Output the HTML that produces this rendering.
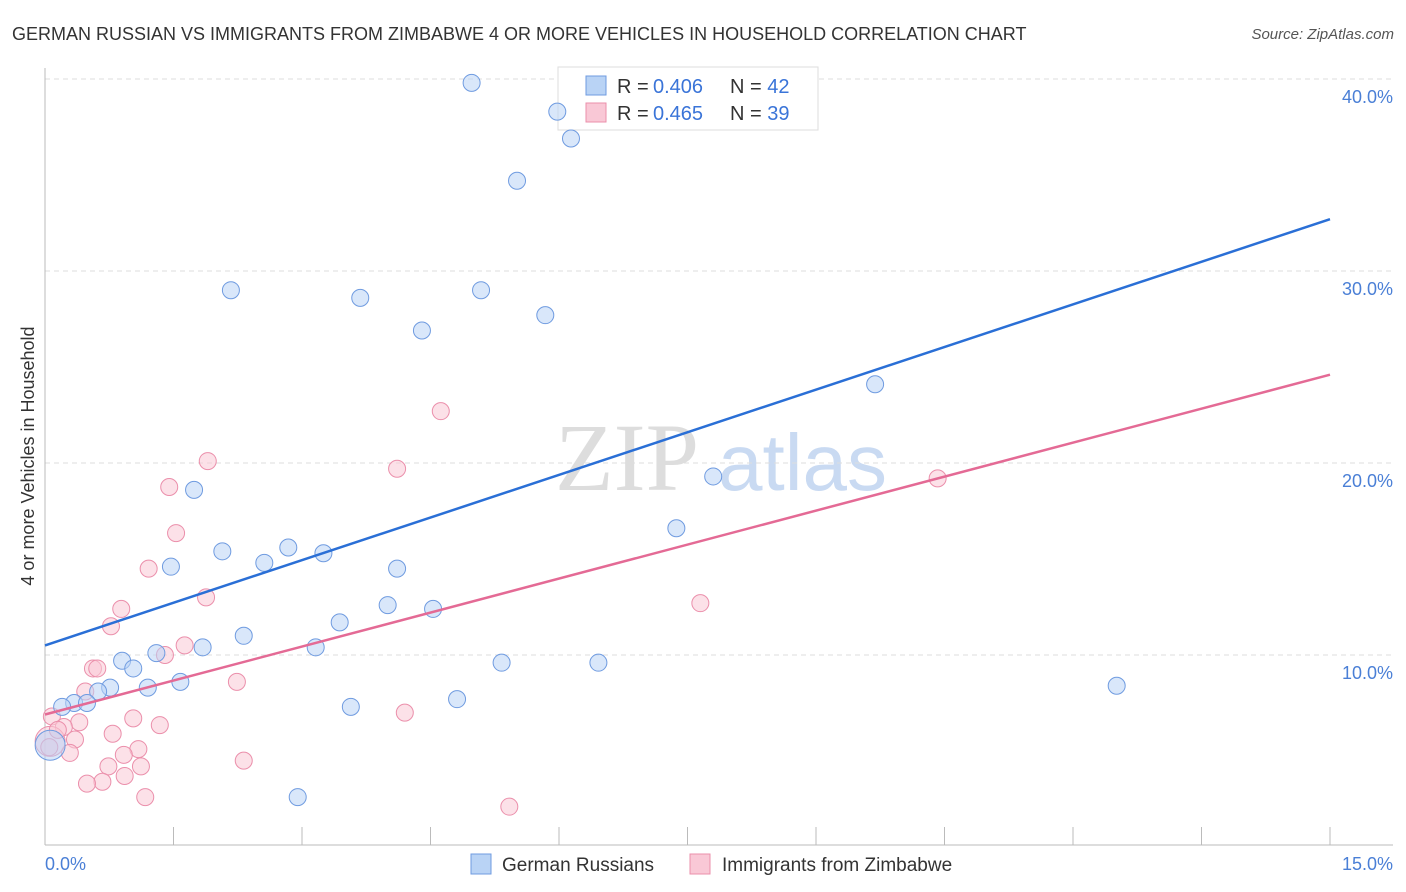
<!DOCTYPE html>
<html><head><meta charset="utf-8"><style>
body{margin:0;background:#fff;font-family:"Liberation Sans",sans-serif;}
svg{display:block}
</style></head><body>
<svg id="chart" width="1406" height="892">
<text x="12" y="40" font-size="18" fill="#333">GERMAN RUSSIAN VS IMMIGRANTS FROM ZIMBABWE 4 OR MORE VEHICLES IN HOUSEHOLD CORRELATION CHART</text>
<text x="1394" y="39" font-size="15" fill="#555" font-style="italic" text-anchor="end">Source: ZipAtlas.com</text>
<g>
<text x="555" y="490" font-size="96" font-family="Liberation Serif" fill="#ddd">ZIP</text>
<text x="718" y="490" font-size="80" fill="#c9daf2">atlas</text>
</g>
<g id="grid"></g>
<g id="axes"></g>
<g>
<rect x="558" y="67" width="260" height="63" fill="#fff" stroke="#ddd"/>
<rect x="586" y="76" width="20" height="19" fill="#b9d3f5" stroke="#6f9be0"/>
<rect x="586" y="103" width="20" height="19" fill="#f9c8d6" stroke="#eb8fab"/>
<text x="617" y="93" font-size="20" fill="#333">R = <tspan x="653" fill="#3a74d8">0.406</tspan><tspan x="730">N = </tspan><tspan fill="#3a74d8">42</tspan></text>
<text x="617" y="120" font-size="20" fill="#333">R = <tspan x="653" fill="#3a74d8">0.465</tspan><tspan x="730">N = </tspan><tspan fill="#3a74d8">39</tspan></text>
</g>
<g id="marks"></g>
<text transform="translate(34,456) rotate(-90)" font-size="18" fill="#333" text-anchor="middle">4 or more Vehicles in Household</text>
<g>
<rect x="471" y="854" width="20" height="20" fill="#b9d3f5" stroke="#6f9be0"/>
<text x="502" y="871" font-size="19" fill="#333">German Russians</text>
<rect x="690" y="854" width="20" height="20" fill="#f9c8d6" stroke="#eb8fab"/>
<text x="722" y="871" font-size="19" fill="#333">Immigrants from Zimbabwe</text>
</g>
</svg>
<script>
const blueX=[4.98,5.98,6.14,5.51,2.17,3.68,5.09,5.84,4.40,9.69,7.80,7.37,1.74,1.47,2.07,2.56,2.84,3.25,4.11,4.00,4.53,3.44,2.32,3.16,1.84,1.30,0.90,1.03,5.33,6.46,1.58,1.20,0.76,0.62,0.34,0.49,0.20,3.57,4.81,12.51,2.95,0.06];
const blueY=[39.8,38.3,36.9,34.7,29.0,28.6,29.0,27.7,26.9,24.1,19.3,16.6,18.6,14.6,15.4,14.8,15.6,15.3,14.5,12.6,12.4,11.7,11.0,10.4,10.4,10.1,9.7,9.3,9.6,9.6,8.6,8.3,8.3,8.1,7.5,7.5,7.3,7.3,7.7,8.4,2.6,5.3];
const pinkX=[4.62,4.11,1.90,1.45,1.53,1.21,1.88,0.89,0.77,1.63,1.40,0.56,0.61,0.47,2.24,7.65,10.42,4.20,1.03,1.34,0.79,0.40,0.08,0.22,0.35,0.29,1.09,0.92,0.74,1.12,0.93,0.67,0.49,1.17,2.32,5.42,0.06,0.15,0.05];
const pinkY=[22.7,19.7,20.1,18.75,16.35,14.5,13.0,12.4,11.5,10.5,10.0,9.3,9.3,8.1,8.6,12.7,19.2,7.0,6.7,6.35,5.9,6.5,6.8,6.25,5.6,4.9,5.1,4.8,4.2,4.2,3.7,3.4,3.3,2.6,4.5,2.1,5.5,6.1,5.2];
const blueTrend=[10.5,32.7];
const pinkTrend=[6.9,24.6];
const yTicks=[10,20,30,40];
const yTickLabels=["10.0%","20.0%","30.0%","40.0%"];
const xTicks=[0,1.5,3,4.5,6,7.5,9,10.5,12,13.5,15];
const xLabels=["0.0%","15.0%"];
const NS="http://www.w3.org/2000/svg";
const sx=v=>45+v*1285/15, sy=v=>847-v*19.2;
function mk(tag,attrs,parent){const e=document.createElementNS(NS,tag);for(const k in attrs)e.setAttribute(k,attrs[k]);parent.appendChild(e);return e;}
const grid=document.getElementById('grid'),axes=document.getElementById('axes'),marks=document.getElementById('marks');
yTicks.forEach((t,i)=>{
 const l=mk('line',{x1:45,x2:1393,y1:sy(t),y2:sy(t),stroke:'#ddd','stroke-dasharray':'5,4'},grid);
 
 
 const tx=mk('text',{x:1393,y:sy(t)+24,'font-size':18,fill:'#4a7fd6','text-anchor':'end'},grid);
 tx.textContent=yTickLabels[i];
 
 
});
mk('line',{x1:45,x2:45,y1:68,y2:845,stroke:'#bbb'},axes);
mk('line',{x1:45,x2:1393,y1:845,y2:845,stroke:'#bbb'},axes);
xTicks.forEach(t=>{
 const l=mk('line',{x1:sx(t),x2:sx(t),y1:827,y2:845,stroke:'#bbb'},axes);
 
 
});
const xl0=mk('text',{x:45,y:870,'font-size':18,fill:'#4a7fd6'},axes);xl0.textContent=xLabels[0];


const xl1=mk('text',{x:1393,y:870,'font-size':18,fill:'#4a7fd6','text-anchor':'end'},axes);xl1.textContent=xLabels[1];


function pts(X,Y,fill,stroke,name){
 X.forEach((x,i)=>{
  const big=i===X.length-1&&name==='german-russian'||(name==='zimbabwe'&&i===36);
  const c=mk('circle',{cx:sx(x),cy:sy(Y[i]),r:big?15:8.5,fill:fill,'fill-opacity':0.55,stroke:stroke,'stroke-width':1},marks);
  
  
 });
}
pts(pinkX,pinkY,'#f9c8d6','#eb8fab','zimbabwe');
pts(blueX,blueY,'#b9d3f5','#6f9be0','german-russian');
const bl=mk('line',{x1:sx(0),y1:sy(blueTrend[0]),x2:sx(15),y2:sy(blueTrend[1]),stroke:'#2a6fd6','stroke-width':2.5},marks);


const pl=mk('line',{x1:sx(0),y1:sy(pinkTrend[0]),x2:sx(15),y2:sy(pinkTrend[1]),stroke:'#e46a95','stroke-width':2.5},marks);


</script>
</body></html>
